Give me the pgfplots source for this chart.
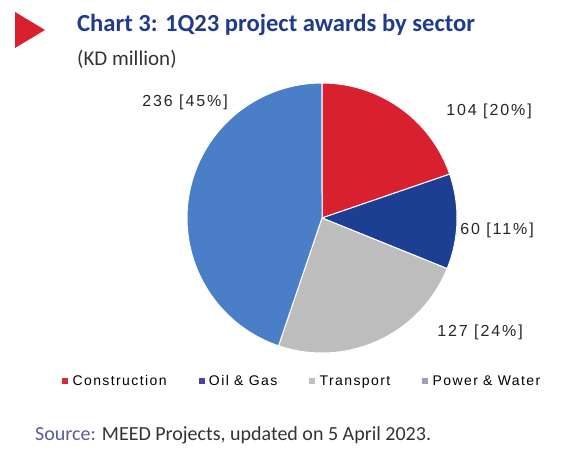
\documentclass[border=0pt]{standalone}
\usepackage{pgfplots}
\pgfplotsset{compat=1.18}
\usepackage{fontspec}
\setmainfont{Liberation Sans}
\newfontfamily\calfont{Carlito}
\newfontfamily\labfont[LetterSpace=10]{Liberation Sans}
\newfontfamily\numfont[LetterSpace=12]{Liberation Sans}
\definecolor{cRed}{HTML}{D9202F}
\definecolor{cNavy}{HTML}{1C3F94}
\definecolor{cGrey}{HTML}{BDBDBD}
\definecolor{cBlue}{HTML}{4A7FC8}
\definecolor{cLegRed}{HTML}{D8283A}
\definecolor{cLegNavy}{HTML}{4A44A8}
\definecolor{cLegGrey}{HTML}{C4BEBE}
\definecolor{cLeg}{HTML}{A29EBA}
\definecolor{cTitle}{HTML}{1F3B8C}
\definecolor{cSrc}{HTML}{5A5A9E}
\definecolor{cTri}{HTML}{D9202F}
\begin{document}
\begin{tikzpicture}
% data (KD million)
\def\vA{104}\def\vB{60}\def\vC{127}\def\vD{236}
\pgfmathsetmacro{\tot}{\vA+\vB+\vC+\vD}
\pgfmathsetmacro{\aA}{90}
\pgfmathsetmacro{\aB}{\aA-360*(\vA/\tot)}
\pgfmathsetmacro{\aC}{\aB-360*(\vB/\tot)}
\pgfmathsetmacro{\aD}{\aC-360*(\vC/\tot)}
\pgfmathsetmacro{\aE}{\aD-360*(\vD/\tot)}
\def\cx{322}\def\cy{218}\def\R{135}
\begin{axis}[hide axis, scale only axis, width=563pt, height=454pt,
  xmin=0, xmax=563, ymin=0, ymax=454, y dir=reverse, clip=false,
  legend columns=4,
  legend style={at={(axis cs:62,381)}, anchor=west, draw=none, fill=none,
    font=\labfont\fontsize{14}{16}\selectfont, inner sep=0pt,
    /tikz/every odd column/.append style={column sep=3pt},
    /tikz/every even column/.append style={column sep=30pt}},
  legend cell align=left]
\path (rel axis cs:0,0) rectangle (rel axis cs:1,1);
\addplot[forget plot, draw=white, line width=1pt, fill=cRed, domain=\aB:\aA, samples=60, variable=\t]
  ({\cx+\R*cos(\t)},{\cy-\R*sin(\t)}) -- (axis cs:\cx,\cy) -- cycle;
\addplot[forget plot, draw=white, line width=1pt, fill=cNavy, domain=\aC:\aB, samples=40, variable=\t]
  ({\cx+\R*cos(\t)},{\cy-\R*sin(\t)}) -- (axis cs:\cx,\cy) -- cycle;
\addplot[forget plot, draw=white, line width=1pt, fill=cGrey, domain=\aD:\aC, samples=60, variable=\t]
  ({\cx+\R*cos(\t)},{\cy-\R*sin(\t)}) -- (axis cs:\cx,\cy) -- cycle;
\addplot[forget plot, draw=white, line width=1pt, fill=cBlue, domain=\aE:\aD, samples=100, variable=\t]
  ({\cx+\R*cos(\t)},{\cy-\R*sin(\t)}) -- (axis cs:\cx,\cy) -- cycle;
\addlegendimage{legend image code/.code={\fill[cLegRed] (0pt,-2.5pt) rectangle (5pt,2.5pt);}}
\addlegendentry{Construction}
\addlegendimage{legend image code/.code={\fill[cLegNavy] (0pt,-2.5pt) rectangle (5pt,2.5pt);}}
\addlegendentry{Oil \& Gas}
\addlegendimage{legend image code/.code={\fill[cLegGrey] (0pt,-2.5pt) rectangle (5pt,2.5pt);}}
\addlegendentry{Transport}
\addlegendimage{legend image code/.code={\fill[cLeg] (0pt,-2.5pt) rectangle (5pt,2.5pt);}}
\addlegendentry{Power \& Water}
% labels
\node[font=\numfont\fontsize{16}{18}\selectfont, text=black!85] at (axis cs:185,102) {236 [45\%]};
\node[font=\numfont\fontsize{16}{18}\selectfont, text=black!85] at (axis cs:489,111) {104 [20\%]};
\node[font=\numfont\fontsize{16}{18}\selectfont, text=black!85] at (axis cs:497,230) {60 [11\%]};
\node[font=\numfont\fontsize{16}{18}\selectfont, text=black!85] at (axis cs:480,332) {127 [24\%]};
% titles
\fill[cTri] (axis cs:15,12) -- (axis cs:15,48) -- (axis cs:45,30) -- cycle;
\node[anchor=base west, inner sep=0pt, font=\calfont\bfseries\fontsize{24.6}{28}\selectfont, text=cTitle] at (axis cs:77,32) {Chart 3: 1Q23 project awards by sector};
\node[anchor=base west, inner sep=0pt, font=\calfont\fontsize{21}{24}\selectfont, text=black!80] at (axis cs:77,66) {(KD million)};
\node[anchor=base west, inner sep=0pt, font=\calfont\fontsize{20}{22}\selectfont, text=black!80] at (axis cs:35,441) {\textcolor{cSrc}{Source:} MEED Projects, updated on 5 April 2023.};
\end{axis}
\end{tikzpicture}
\end{document}
